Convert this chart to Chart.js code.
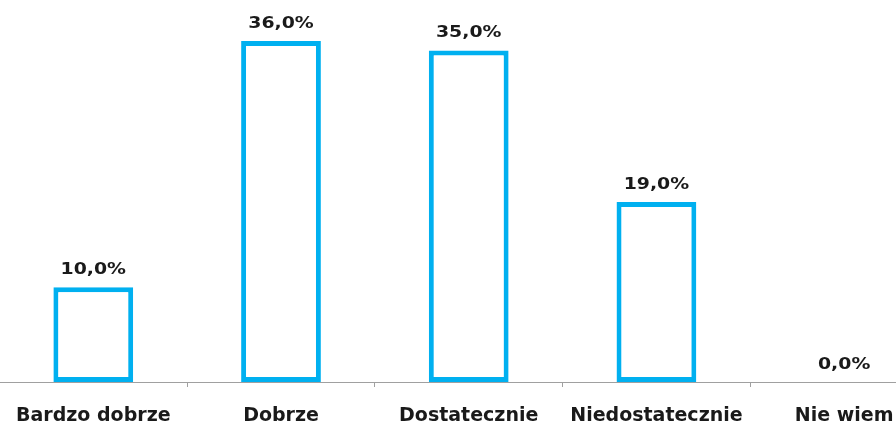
<!DOCTYPE html>
<html>
<head>
<meta charset="utf-8">
<script src="https://cdn.jsdelivr.net/npm/chart.js@4"></script>
<style>
  html,body{margin:0;padding:0;background:#fff;overflow:hidden;width:896px;height:421px}
  #wrap{position:absolute;left:-2px;top:0;width:940px;height:432px}
</style>
</head>
<body>
<div id="wrap"><canvas id="c"></canvas></div>
<script>
// categories and values
const categories=['Bardzo dobrze','Dobrze','Dostatecznie','Niedostatecznie','Nie wiem'];
const values=[10,36,35,19,0];
const valueLabels=['10,0%','36,0%','35,0%','19,0%','0,0%'];

const FONT='"DejaVu Sans", sans-serif';

// labels above the bars (a bit stretched, like the original)
const barLabels={
  id:'barLabels',
  afterDatasetsDraw(chart){
    const ctx=chart.ctx;
    const meta=chart.getDatasetMeta(0);
    meta.data.forEach((bar,i)=>{
      ctx.save();
      ctx.font='bold 16px '+FONT;
      ctx.fillStyle='#1a1a1a';
      ctx.textAlign='center';
      ctx.textBaseline='alphabetic';
      ctx.translate(bar.x,bar.y-13);
      ctx.scale(1.18,1);
      ctx.fillText(valueLabels[i],0,0);
      ctx.restore();
    });
  }
};

new Chart(document.getElementById('c').getContext('2d'),{
  type:'bar',
  data:{
    labels:categories,
    datasets:[{
      data:values,
      backgroundColor:'#ffffff',
      borderColor:'#00b0f0',
      borderWidth:5,
      borderSkipped:false,
      barPercentage:0.85,
      categoryPercentage:0.5
    }]
  },
  options:{
    responsive:true,
    maintainAspectRatio:false,
    animation:false,
    layout:{padding:{top:3,left:0,right:0,bottom:0}},
    plugins:{legend:{display:false},tooltip:{enabled:false}},
    scales:{
      y:{display:false,min:0,max:40},
      x:{
        afterFit(scale){scale.height=50;},
        grid:{offset:true,drawOnChartArea:false,drawTicks:true,tickLength:5,color:'#a0a0a0'},
        border:{display:true,color:'#a0a0a0',width:1},
        ticks:{color:'#1a1a1a',font:{family:FONT,size:19,weight:'bold'},padding:18,maxRotation:0,autoSkip:false}
      }
    }
  },
  plugins:[barLabels]
});
</script>
</body>
</html>
